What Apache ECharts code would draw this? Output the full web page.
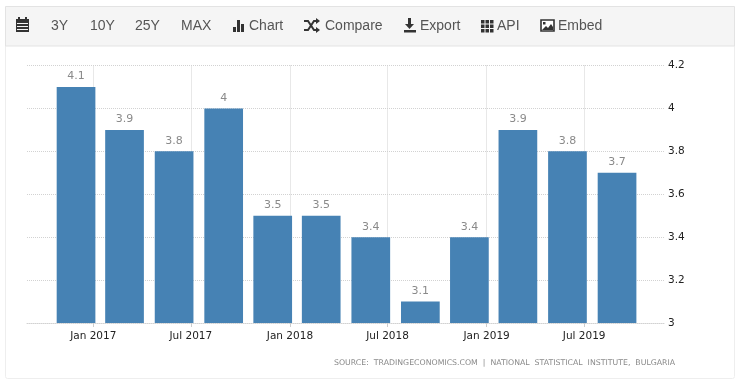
<!DOCTYPE html>
<html><head><meta charset="utf-8">
<style>html,body{margin:0;padding:0;background:#fff}#c{width:740px;height:381px}</style>
<script src="https://cdn.jsdelivr.net/npm/echarts@6/dist/echarts.min.js"></script>
</head><body><div id="c"></div>
<script>
const periods=['2016-11-30','2017-02-28','2017-05-31','2017-08-31','2017-11-30','2018-02-28','2018-05-31','2018-08-31','2018-11-30','2019-02-28','2019-05-31','2019-08-31'];
const values=[4.1,3.9,3.8,4,3.5,3.5,3.4,3.1,3.4,3.9,3.8,3.7];
const tickDates=['2017-01-01','2017-07-01','2018-01-01','2018-07-01','2019-01-01','2019-07-01'];
const tickLabels=['Jan 2017','Jul 2017','Jan 2018','Jul 2018','Jan 2019','Jul 2019'];
const rangeLabels=['3Y','10Y','25Y','MAX'];
const sourceText='SOURCE:  TRADINGECONOMICS.COM  |  NATIONAL  STATISTICAL  INSTITUTE,  BULGARIA';

const t=s=>Date.parse(s+'T00:00:00Z');
const tickTimes=tickDates.map(t);
const labelFor=v=>{const i=tickTimes.indexOf(v);return i<0?'':tickLabels[i];};
const barText={fontFamily:'"Liberation Sans",Arial',fontSize:14,fill:'#555'};
const ink='#333';
function txt(x,s){return {type:'text',x:x,y:26.5,style:Object.assign({text:s,textVerticalAlign:'middle'},barText)};}
function r(x,y,w,h,fill){return {type:'rect',shape:{x,y,width:w,height:h},style:{fill:fill||ink}};}
const rangeX=[51,90,135,181];
const gfx=[
 {type:'rect',z:-2,shape:{x:5.5,y:6.5,width:729,height:372,r:2},style:{fill:'#fff',stroke:'#eeeeee'}},
 {type:'rect',z:-1,shape:{x:5.5,y:6.5,width:729,height:39.5},style:{fill:'#f5f5f5',stroke:'#e3e3e3'}},
 r(16,19,13,13),r(18,17,2,3),r(25,17,2,3),
 r(17,23,11,1,'#f5f5f5'),r(17,26,11,1,'#f5f5f5'),r(17,29,11,1,'#f5f5f5'),
 ...rangeLabels.map((s,i)=>txt(rangeX[i],s)),
 r(233,27,3,5),r(237,20,3,12),r(241,24,3,8),
 txt(249,'Chart'),
 {type:'polyline',shape:{points:[[304,21],[308,21],[314,30],[317,30]]},style:{stroke:ink,lineWidth:2,fill:'none'}},
 {type:'polyline',shape:{points:[[304,30],[308,30],[314,21],[317,21]]},style:{stroke:ink,lineWidth:2,fill:'none'}},
 {type:'polygon',shape:{points:[[316,18],[320,21],[316,24]]},style:{fill:ink}},
 {type:'polygon',shape:{points:[[316,27],[320,30],[316,33]]},style:{fill:ink}},
 txt(325,'Compare'),
 r(408,18,3,7),{type:'polygon',shape:{points:[[405,24],[414,24],[409.5,29]]},style:{fill:ink}},
 r(404,30,12,2.5),
 txt(420,'Export'),
 ...[0,1,2].flatMap(a=>[0,1,2].map(b=>r(481+a*4.5,20+b*4.5,3.5,3.5))),
 txt(497,'API'),
 {type:'rect',shape:{x:541,y:20,width:13,height:11},style:{fill:'#fff',stroke:ink,lineWidth:1.6}},
 {type:'polygon',shape:{points:[[542,30],[546,26],[548,28],[551,24],[553,27],[553,30]]},style:{fill:ink}},
 r(543,22,2.5,2.5),
 txt(558,'Embed'),
 {type:'text',x:334,y:363,style:{text:sourceText,textVerticalAlign:'middle',fontFamily:'"DejaVu Sans"',fontSize:7.8,fill:'#8a8a8a'}}
];
const chart=echarts.init(document.getElementById('c'),null,{renderer:'canvas'});
const gridLine={show:true,lineStyle:{color:'#d2d2d2',type:[1,1],width:1}};
chart.setOption({
 animation:false,
 grid:{left:27,right:75,top:65.5,bottom:58},
 graphic:{elements:gfx},
 xAxis:{type:'value',scale:true,min:t('2016-08-31'),max:t('2019-11-28'),
  axisLine:{show:true,onZero:false,lineStyle:{color:'#d2d2d2',type:[1,1]}},
  axisTick:{show:true,length:4,customValues:tickTimes,lineStyle:{color:'#ccc'}},
  splitLine:gridLine,
  axisLabel:{customValues:tickTimes,formatter:v=>labelFor(v),color:'#222',fontFamily:'"DejaVu Sans"',fontSize:10.5,margin:8,hideOverlap:false}},
 yAxis:{type:'value',position:'right',min:3,max:4.2,interval:0.2,
  axisLine:{show:false},axisTick:{show:false},splitLine:gridLine,
  axisLabel:{color:'#222',fontFamily:'"DejaVu Sans"',fontSize:10.5,margin:3,padding:[4,0,0,0],formatter:v=>String(+v.toFixed(1))}},
 series:[{type:'bar',barWidth:38.7,data:periods.map((p,i)=>[t(p),values[i]]),
  itemStyle:{color:'#4682b4'},
  label:{show:true,position:'top',distance:5,color:'#8a8a8a',fontFamily:'"DejaVu Sans"',fontSize:11,formatter:p=>String(p.value[1])}}]
});
</script></body></html>
